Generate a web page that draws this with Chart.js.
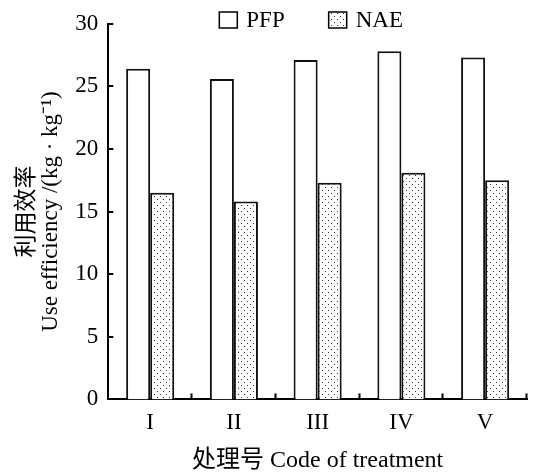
<!DOCTYPE html>
<html>
<head>
<meta charset="utf-8">
<script src="https://cdn.jsdelivr.net/npm/chart.js@4"></script>
<style>
  body { margin: 0; background: #fff; }
  #wrap { width: 539px; height: 473px; }
</style>
</head>
<body>
<div id="wrap"><canvas id="chart"></canvas></div>
<script>
// data
const treatments = ['I', 'II', 'III', 'IV', 'V'];
const pfpValues = [26.4, 25.6, 27.1, 27.8, 27.3];
const naeValues = [16.5, 15.8, 17.3, 18.1, 17.5];
const yTicks = [0, 5, 10, 15, 20, 25, 30];

const FONT = '"Liberation Serif", "Noto Sans CJK SC", serif';

// dotted fill for NAE bars
function dotPattern() {
  const c = document.createElement('canvas');
  c.width = 6; c.height = 6;
  const g = c.getContext('2d');
  g.fillStyle = '#fff';
  g.fillRect(0, 0, 6, 6);
  g.fillStyle = '#333';
  g.fillRect(1, 1, 1, 1);
  g.fillRect(4, 4, 1, 1);
  return g.createPattern(c, 'repeat');
}
const dots = dotPattern();

// inward tick marks + legend in the top band
const decor = {
  id: 'decor',
  afterDraw(chart) {
    const ctx = chart.ctx;
    const area = chart.chartArea;
    const ys = chart.scales.y;
    ctx.save();
    ctx.strokeStyle = '#000';
    ctx.lineWidth = 2;
    yTicks.forEach(v => {
      const y = Math.round(ys.getPixelForValue(v));
      ctx.beginPath();
      ctx.moveTo(area.left, y);
      ctx.lineTo(area.left + 5, y);
      ctx.stroke();
    });
    const step = (area.right - area.left) / treatments.length;
    for (let i = 1; i <= treatments.length; i++) {
      const x = Math.round(area.left + i * step) - 0.5;
      ctx.beginPath();
      ctx.moveTo(x, area.bottom);
      ctx.lineTo(x, area.bottom - 6);
      ctx.stroke();
    }

    // legend
    ctx.font = '23px ' + FONT;
    ctx.textBaseline = 'middle';
    let x = area.left + 111;
    const yMid = 20;
    chart.data.datasets.forEach(ds => {
      ctx.fillStyle = ds.backgroundColor;
      ctx.fillRect(x, yMid - 8, 18, 16);
      ctx.lineWidth = 1.5;
      ctx.strokeRect(x, yMid - 8, 18, 16);
      ctx.fillStyle = '#000';
      ctx.fillText(ds.label, x + 27, yMid + 1);
      x += 27 + ctx.measureText(ds.label).width + 44;
    });
    ctx.restore();
  }
};

new Chart(document.getElementById('chart'), {
  type: 'bar',
  data: {
    labels: treatments,
    datasets: [
      {
        label: 'PFP',
        data: pfpValues,
        backgroundColor: '#fff',
        borderColor: '#111',
        borderWidth: 2,
        borderSkipped: 'bottom'
      },
      {
        label: 'NAE',
        data: naeValues,
        backgroundColor: dots,
        borderColor: '#111',
        borderWidth: 2,
        borderSkipped: 'bottom'
      }
    ]
  },
  options: {
    responsive: true,
    maintainAspectRatio: false,
    animation: false,
    datasets: {
      bar: { categoryPercentage: 0.574, barPercentage: 1 }
    },
    layout: { padding: { top: 14, right: 12, left: 15, bottom: 0 } },
    plugins: {
      legend: { display: false },
      tooltip: { enabled: false }
    },
    scales: {
      x: {
        grid: { display: false, drawTicks: false },
        border: { color: '#000', width: 2 },
        ticks: { color: '#000', padding: 10, font: { family: FONT, size: 23 } },
        title: {
          display: true,
          text: '处理号 Code of treatment',
          color: '#000',
          font: { family: FONT, size: 24, lineHeight: 1 },
          padding: { top: 2, bottom: 0 }
        }
      },
      y: {
        min: 0,
        max: 30,
        grid: { display: false, drawTicks: false },
        border: { color: '#000', width: 2 },
        ticks: {
          stepSize: 5,
          color: '#000',
          padding: 10,
          font: { family: FONT, size: 23 }
        },
        title: {
          display: true,
          text: ['利用效率', 'Use efficiency /(kg · kg⁻¹)'],
          color: '#000',
          font: { family: FONT, size: 23, lineHeight: 1.05 },
          padding: { top: 0, bottom: 2 }
        }
      }
    }
  },
  plugins: [decor]
});
</script>
</body>
</html>
